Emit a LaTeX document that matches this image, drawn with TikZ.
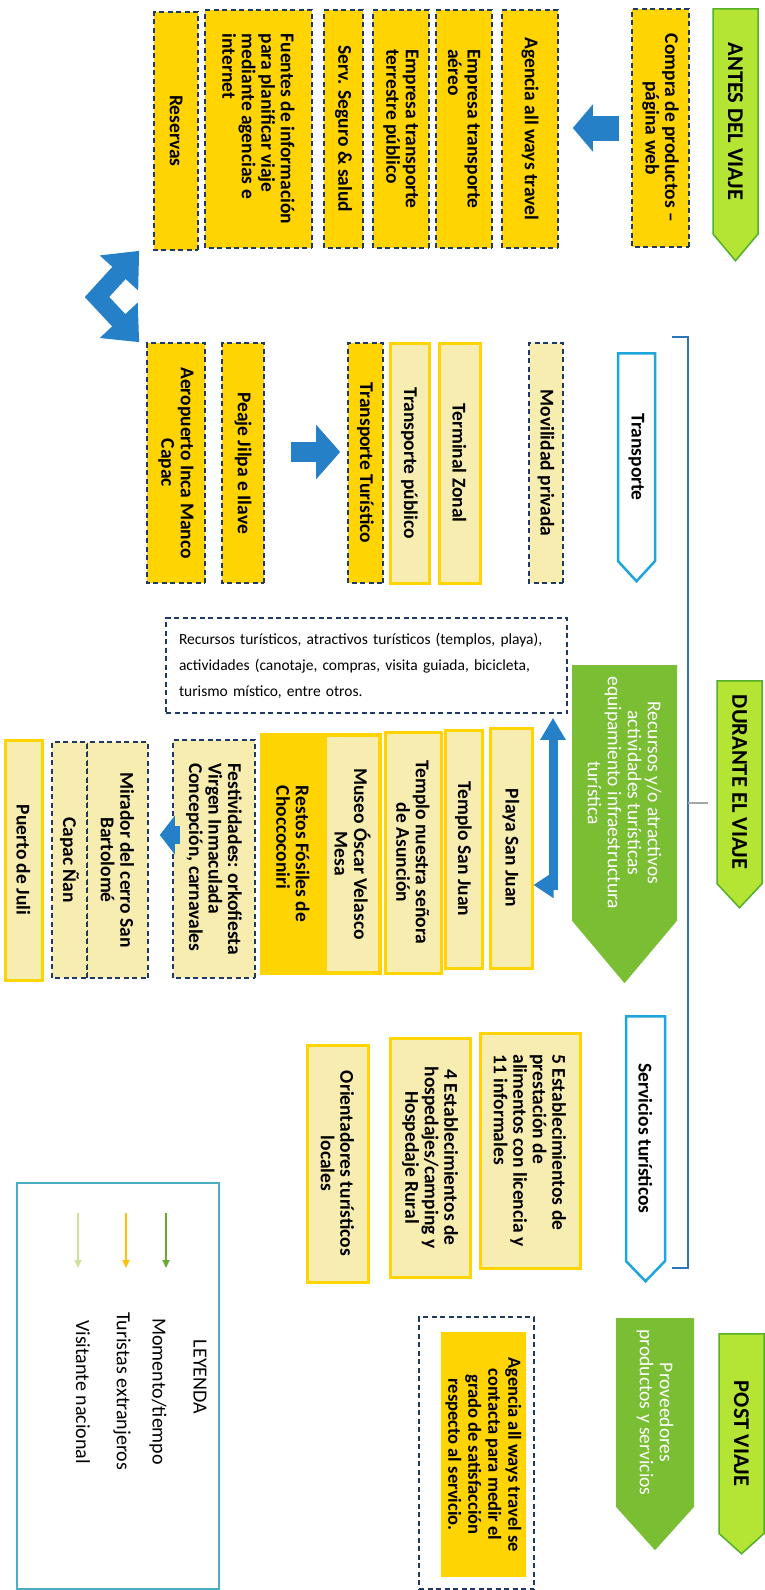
\documentclass[tikz,border=0pt]{standalone}
\usepackage{fontspec}
\setmainfont{Carlito}
\usepackage{tikz}
\usetikzlibrary{shapes.symbols, arrows.meta, calc}

\definecolor{gold}{RGB}{255,212,0}
\definecolor{pale}{RGB}{248,237,176}
\definecolor{navy}{RGB}{31,56,100}
\definecolor{arrowblue}{RGB}{38,128,200}
\definecolor{skyline}{RGB}{30,165,220}
\definecolor{bracketblue}{RGB}{46,117,182}
\definecolor{lime}{RGB}{180,228,52}
\definecolor{limeedge}{RGB}{84,176,40}
\definecolor{stagegreen}{RGB}{122,190,52}
\definecolor{legendline}{RGB}{75,172,198}
\definecolor{legGreen}{RGB}{104,170,44}
\definecolor{legGold}{RGB}{255,194,0}
\definecolor{legPale}{RGB}{204,228,150}

\begin{document}
\begin{tikzpicture}[
  x=1pt, y=-1pt,
  boxfont/.style={font=\bfseries\fontsize{19.5}{19.5}\selectfont},
  dims/.style 2 args={minimum height=#1pt, minimum width=#2pt},
  vbox/.style={rectangle, rotate=-90, boxfont, inner sep=0pt, align=center},
  goldbox/.style={vbox, fill=gold, draw=navy, line width=1.6pt,
                  dash pattern=on 5pt off 3.5pt},
  palebox/.style={vbox, fill=pale, draw=gold, line width=3pt},
  paledash/.style={vbox, fill=pale, draw=navy, line width=1.6pt,
                   dash pattern=on 5pt off 3.5pt},
  goldfill/.style={vbox, fill=gold},
  phase/.style={signal, signal to=east, rotate=-90, anchor=west,
                fill=lime, draw=limeedge, line width=1.5pt, inner sep=0pt,
                font=\bfseries\fontsize{22.5}{24}\selectfont},
  stage/.style={signal, signal to=east, rotate=-90, anchor=west,
                fill=stagegreen, text=white, align=center, inner sep=0pt,
                font=\fontsize{19.5}{20}\selectfont},
  topic/.style={signal, signal to=east, rotate=-90, anchor=west,
                fill=white, draw=skyline, line width=2.5pt, inner sep=0pt,
                boxfont},
  note/.style={rectangle, fill=white, draw=navy, line width=1.6pt,
               dash pattern=on 5pt off 3.5pt, inner sep=0pt,
               font=\fontsize{15.5}{26}\selectfont, align=left},
  blockarrow/.style={draw=arrowblue, line join=miter},
  bracket/.style={draw=bracketblue, line width=1.2pt},
  legtext/.style={rotate=-90, inner sep=0pt, font=\fontsize{20}{22}\selectfont},
  legarrow/.style={line width=2pt, -{Triangle[length=8pt,width=7pt]}},
]
  \fill[white] (0,0) rectangle (764,1590);
  \useasboundingbox (0,0) rectangle (764,1590);

  % Antes del viaje
  \node[phase, signal pointer angle=80, dims={45}{252}] (antes) at (735.5,8) {ANTES DEL VIAJE};
  \node[goldbox, dims={57}{238}] (compra) at (660.5,128) {Compra de productos –\\página web};
  \node[goldbox, align=left, dims={56}{238}] (agencia) at (530,129) {Agencia all ways travel};
  \node[goldbox, align=left, dims={56}{238}] (aereo) at (464,129) {Empresa transporte\\aéreo};
  \node[goldbox, align=left, dims={56}{238}] (terrestre) at (401,129) {Empresa transporte\\terrestre público};
  \node[goldbox, align=left, dims={39}{238}] (seguro) at (343.5,129) {Serv. Seguro \& salud};
  \node[goldbox, align=left, dims={107}{238}] (fuentes) at (258.5,129) {Fuentes de información\\para planificar viaje\\mediante agencias e\\internet};
  \node[goldbox, dims={44}{238}] (reservas) at (176,131) {Reservas};

  % Transporte
  \node[topic, signal pointer angle=85, dims={37}{228}] (transporte) at (636.5,352) {Transporte};
  \node[paledash, dims={34}{240}] (movilidad) at (546,463) {Movilidad privada};
  \node[palebox, dims={41}{240}] (terminal) at (459.5,463) {Terminal Zonal};
  \node[palebox, dims={39}{240}] (publico) at (409.5,463) {Transporte público};
  \node[goldbox, dims={35}{240}] (turistico) at (365.5,463) {Transporte Turístico};
  \node[goldbox, dims={42}{240}] (peaje) at (243,463) {Peaje Jilpa e Ilave};
  \node[goldbox, dims={58}{240}] (aeropuerto) at (176,463) {Aeropuerto Inca Manco\\Capac};

  % Durante el viaje
  \node[phase, signal pointer angle=86, dims={45}{227}] (durante) at (739.5,680) {DURANTE EL VIAJE};
  \node[stage, signal pointer angle=80, dims={105}{318}] (recursos) at (624.5,665) {Recursos y/o atractivos\\actividades turísticas\\equipamiento infraestructura\\turística};
  \node[note, minimum width=401pt, minimum height=95pt, text width=375pt] (nota) at (366.5,665.5)
    {Recursos turísticos, atractivos turísticos (templos, playa),\\actividades (canotaje, compras, visita guiada, bicicleta,\\turismo místico, entre otros.};

  % Recursos
  \node[palebox, dims={42}{240}] (playa) at (511,848) {Playa San Juan};
  \node[palebox, dims={37}{238}] (templo) at (463.5,849) {Templo San Juan};
  \node[palebox, dims={56}{241}] (asuncion) at (413,852.5) {Templo nuestra señora\\de Asunción};
  \node[goldfill, align=left, dims={66}{242}] (restos) at (293,854) {Restos Fósiles de\\Choccoconiri};
  \node[palebox, line width=4pt, dims={55}{238}] (museo) at (352.5,854) {Museo Óscar Velasco\\Mesa};
  \node[paledash, align=left, dims={82}{238}] (festividades) at (214,859) {Festividades: orkofiesta\\Virgen Inmaculada\\Concepción, carnavales};
  \node[paledash, dims={61}{236}] (mirador) at (117.5,860) {Mirador del cerro San\\Bartolomé};
  \node[paledash, dims={35}{236}] (capac) at (69.5,860) {Capac Ñan};
  \node[palebox, dims={37}{240}] (juli) at (23.5,860) {Puerto de Juli};

  % Servicios
  \node[topic, signal pointer angle=88, dims={39}{265}] (servicios) at (645.5,1015) {Servicios turísticos};
  \node[palebox, align=left, dims={100}{235}] (alimentos) at (530,1150.5) {5 Establecimientos de\\prestación de\\alimentos con licencia y\\11 informales};
  \node[palebox, dims={80}{239}] (hospedaje) at (430,1157.5) {4 Establecimientos de\\hospedajes/camping y\\Hospedaje Rural};
  \node[palebox, dims={61}{237}] (orientadores) at (337.5,1163.5) {Orientadores turísticos\\locales};

  % Post viaje
  \node[phase, signal pointer angle=96, dims={45}{220}] (post) at (741.5,1333) {POST VIAJE};
  \node[stage, signal pointer angle=84, dims={78}{232}] (proveedores) at (655,1318) {Proveedores\\productos y servicios};
  \node[draw=navy, line width=1.6pt, dash pattern=on 5pt off 3.5pt,
        minimum width=115pt, minimum height=272pt] (marco) at (476.5,1453) {};
  \node[rotate=-90, fill=gold, align=center, inner sep=0pt, minimum width=245pt, minimum height=85pt,
        font=\bfseries\fontsize{18.5}{20}\selectfont] (contacto) at (483.5,1454.5)
    {Agencia all ways travel se\\contacta para medir el\\grado de satisfacción\\respecto al servicio.};

  % Leyenda
  \node[draw=legendline, line width=1.3pt, minimum width=202pt, minimum height=406pt] (leyenda) at (118,1386) {};
  \node[legtext] (titulo) at (200,1377) {LEYENDA};
  \node[legtext, anchor=west] (momento) at (158,1318) {Momento/tiempo};
  \node[legtext, anchor=west] (turistas) at (122,1312) {Turistas extranjeros};
  \node[legtext, anchor=west] (visitante) at (83,1320) {Visitante nacional};
  \draw[legarrow, legGreen] ($(momento.west)+(8,-105)$) -- ($(momento.west)+(8,-50)$);
  \draw[legarrow, legGold] ($(turistas.west)+(4,-99)$) -- ($(turistas.west)+(4,-44)$);
  \draw[legarrow, legPale] ($(visitante.west)+(-5,-107)$) -- ($(visitante.west)+(-5,-52)$);

  % Bracket
  \draw[bracket] (672,337) -- (688,337) -- (688,1268) -- (672,1268);
  \draw[bracket, draw=gray!70] (688,803) -- (708,803);

  % Arrows
  \coordinate (chevmid) at (97,297);
  \coordinate (lbend) at (553,885);
  \draw[blockarrow, line width=25pt, -{Triangle[length=20pt,width=46pt]}, shorten <=12pt, shorten >=14pt]
    (compra.south) -- (compra.south -| agencia.north);
  \draw[blockarrow, line width=18pt, {Triangle[length=30pt,width=50pt]}-{Triangle[length=30pt,width=50pt]}]
    ([xshift=-14pt]reservas.south east) -- (chevmid) -- ([xshift=-7pt]aeropuerto.south west);
  \draw[blockarrow, line width=20pt, -{Triangle[length=24pt,width=53pt]}, shorten <=26pt, shorten >=7pt]
    ([yshift=11pt]peaje.north) -- ([yshift=11pt]peaje.north -| turistico.south);
  \draw[blockarrow, line width=9pt, {Triangle[length=20pt,width=25pt]}-{Triangle[length=22pt,width=24pt]}, shorten >=4pt]
    (lbend -| playa.north) -- (lbend) -- (lbend |- nota.south);
  \draw[blockarrow, line width=18pt, -{Triangle[length=15pt,width=38pt]}, shorten <=8pt, shorten >=11pt]
    ([yshift=24pt]festividades.south) -- ([yshift=24pt]festividades.south -| mirador.north);
\end{tikzpicture}
\end{document}
